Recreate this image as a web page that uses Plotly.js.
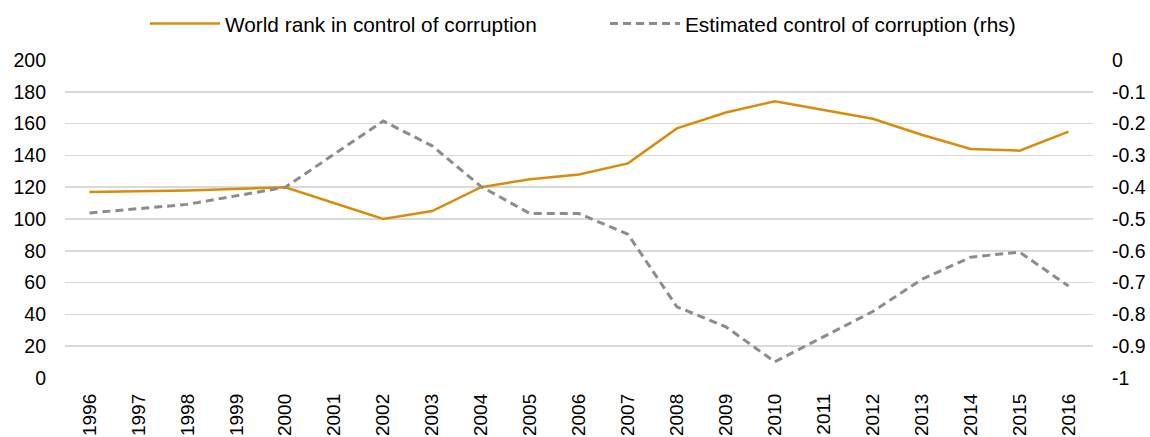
<!DOCTYPE html>
<html>
<head>
<meta charset="utf-8">
<script src="https://cdn.plot.ly/plotly-3.0.1.min.js"></script>
<style>html,body{margin:0;padding:0;background:#fff;}#chart{width:1150px;height:437px;}</style>
</head>
<body>
<div id="chart"></div>
<script>
const years = ["1996","1997","1998","1999","2000","2001","2002","2003","2004","2005","2006","2007","2008","2009","2010","2011","2012","2013","2014","2015","2016"];
const worldRank = [117, null, 118, null, 120, null, 100, 105, 120, 125, 128, 135, 157, 167, 174, 168.5, 163, 153, 144, 143, 155];
const controlEstimate = [-0.481, null, -0.454, null, -0.40, null, -0.192, -0.27, -0.398, -0.483, -0.483, -0.548, -0.776, -0.839, -0.949, -0.87, -0.791, -0.69, -0.62, -0.604, -0.711];
const leftTicks = [0,20,40,60,80,100,120,140,160,180,200];
const rightTicks = [-1,-0.9,-0.8,-0.7,-0.6,-0.5,-0.4,-0.3,-0.2,-0.1,0];
const rightTickText = ["-1","-0.9","-0.8","-0.7","-0.6","-0.5","-0.4","-0.3","-0.2","-0.1","0"];

const fam = "Liberation Sans, Arial, sans-serif";

const traces = [
  {x: years, y: worldRank, type: "scatter", mode: "lines", connectgaps: true,
   name: "World rank in control of corruption", legend: "legend",
   line: {color: "#D98C0A", width: 2.5}, yaxis: "y"},
  {x: years, y: controlEstimate, type: "scatter", mode: "lines", connectgaps: true,
   name: "Estimated control of corruption (rhs)", legend: "legend2",
   line: {color: "#8C8C8C", width: 3, dash: "8px,5px"}, yaxis: "y2"}
];

const legFont = {family: fam, size: 20.8, color: "#000"};
const layout = {
  width: 1150, height: 437,
  margin: {l: 65, r: 57, t: 60, b: 59, autoexpand: false},
  paper_bgcolor: "#fff", plot_bgcolor: "#fff",
  font: {family: fam, size: 19.5, color: "#000"},
  showlegend: true,
  legend: {orientation: "h", xref: "container", yref: "container", x: 145/1150, xanchor: "left",
           y: 1 - 24/437, yanchor: "middle", font: legFont, itemwidth: 70, bgcolor: "rgba(0,0,0,0)"},
  legend2: {orientation: "h", xref: "container", yref: "container", x: 605/1150, xanchor: "left",
           y: 1 - 24/437, yanchor: "middle", font: legFont, itemwidth: 70, bgcolor: "rgba(0,0,0,0)"},
  xaxis: {type: "category", range: [-0.5, 20.5], tickangle: -90, showgrid: false, zeroline: false,
          showline: false, ticks: "", ticklabelstandoff: 11,
          tickfont: {family: fam, size: 19, color: "#000"}},
  yaxis: {range: [0, 200], tickvals: leftTicks, showgrid: true, gridcolor: "#D9D9D9", gridwidth: 1.5,
          zeroline: false, showline: false, ticks: "", ticklabelstandoff: 18,
          tickfont: {family: fam, size: 19.5, color: "#000"}},
  yaxis2: {range: [-1, 0], overlaying: "y", side: "right", tickvals: rightTicks, ticktext: rightTickText,
           showgrid: false, zeroline: false, showline: false, ticks: "", ticklabelstandoff: 18,
           tickfont: {family: fam, size: 19.5, color: "#000"}}
};

Plotly.newPlot("chart", traces, layout, {displayModeBar: false, staticPlot: true});
</script>
</body>
</html>
